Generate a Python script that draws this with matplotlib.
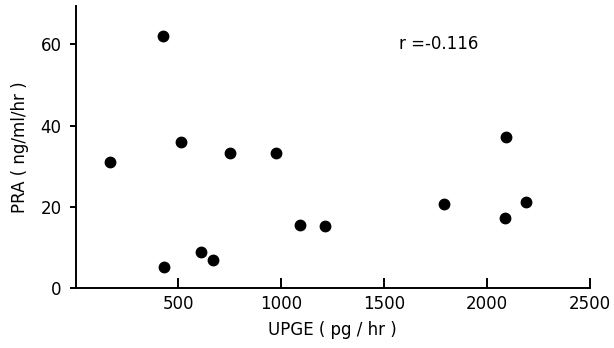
import matplotlib.pyplot as plt

# UPGE (pg/hr) against PRA (ng/ml/hr)
upge = [166, 427, 429, 511, 612, 667, 751, 972, 1090, 1214, 1789, 2090, 2088, 2187]
pra = [31.0, 62.0, 5.2, 36.1, 8.9, 6.9, 33.2, 33.3, 15.5, 15.4, 20.6, 37.3, 17.2, 21.3]

xticks = [500, 1000, 1500, 2000, 2500]
yticks = [0, 20, 40, 60]


def main():
    fig = plt.figure(figsize=(6.14, 3.48), dpi=100)
    ax = fig.add_axes([0.123, 0.172, 0.838, 0.811])

    ax.plot(upge, pra, 'o', color='black', markersize=7.5)

    ax.set_xlim(0, 2500)
    ax.set_ylim(0, 69.5)
    ax.set_xticks(xticks)
    ax.set_yticks(yticks)

    for side in ('top', 'right'):
        ax.spines[side].set_visible(False)
    for side in ('left', 'bottom'):
        ax.spines[side].set_linewidth(1.4)

    ax.tick_params(axis='x', direction='in', length=7, width=1.4,
                   labelsize=12, pad=5)
    ax.tick_params(axis='y', direction='out', length=4, width=1.4,
                   labelsize=12, pad=6)

    ax.set_xlabel('UPGE ( pg / hr )', fontsize=12, labelpad=6)
    ax.set_ylabel('PRA ( ng/ml/hr )', fontsize=12, labelpad=8)

    ax.text(1570, 60, 'r =-0.116', fontsize=12, ha='left', va='center')

    fig.savefig('out.png', dpi=100)


if __name__ == "__main__":
    main()
